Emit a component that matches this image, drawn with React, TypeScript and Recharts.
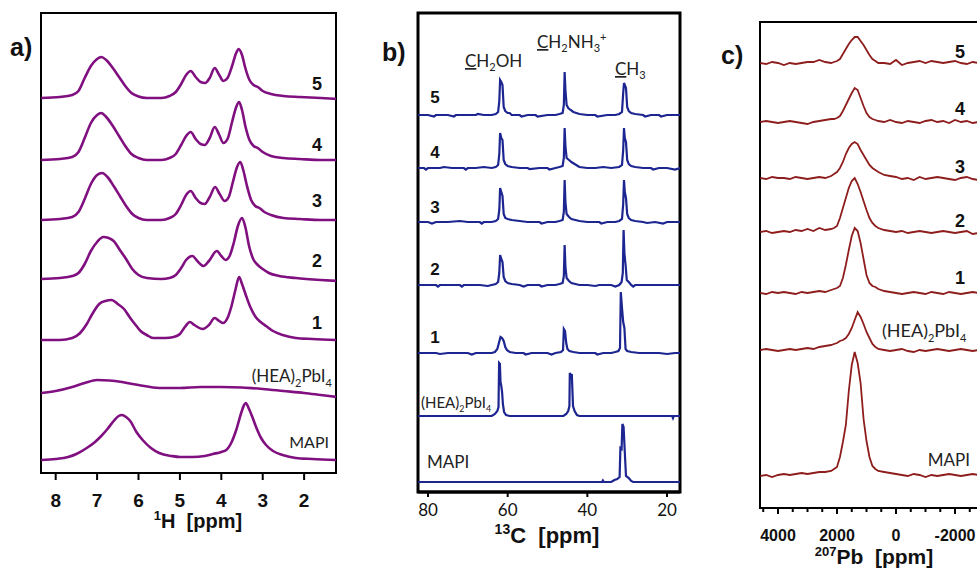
import React from "react";
import { LineChart, Line, XAxis, YAxis, ReferenceArea } from "recharts";

type Pt = [number, number];

// ---------- a) 1H MAS spectra: [ppm, intensity above own baseline] ----------
const h1Ticks = [8, 7, 6, 5, 4, 3, 2];

const h1S5: Pt[] = [
  [8.35, 0], [7.9, 1], [7.6, 3], [7.45, 7], [7.3, 20], [7.15, 32], [7.0, 39], [6.9, 41], [6.78, 38],
  [6.62, 30], [6.47, 21], [6.32, 12], [6.17, 5], [6.0, 1.5], [5.8, 0], [5.45, 0], [5.25, 2], [5.1, 6],
  [4.97, 14], [4.85, 23], [4.74, 27], [4.62, 21], [4.5, 16], [4.39, 15], [4.28, 20], [4.16, 30],
  [4.05, 23], [3.95, 17], [3.85, 20], [3.74, 32], [3.65, 44], [3.58, 49], [3.5, 43], [3.42, 30],
  [3.32, 18], [3.22, 13], [3.12, 11], [3.0, 7], [2.8, 4], [2.5, 2], [2.1, 1], [1.6, 0], [1.2, -1],
];
const h1S4: Pt[] = [
  [8.35, 0], [7.9, 1], [7.6, 3], [7.45, 8], [7.3, 22], [7.15, 37], [7.0, 45], [6.9, 47], [6.78, 43],
  [6.62, 34], [6.47, 24], [6.32, 14], [6.17, 6], [6.0, 2], [5.8, 0], [5.45, 0], [5.25, 2], [5.1, 6],
  [4.97, 15], [4.85, 24], [4.74, 28], [4.62, 21], [4.5, 16], [4.4, 15], [4.28, 22], [4.16, 33],
  [4.05, 25], [3.95, 17], [3.85, 21], [3.74, 38], [3.64, 53], [3.57, 58], [3.5, 50], [3.42, 34],
  [3.32, 20], [3.22, 14], [3.12, 12], [3.0, 8], [2.8, 4], [2.5, 2], [2.1, 1], [1.6, 0], [1.2, 0],
];
const h1S3: Pt[] = [
  [8.35, 0], [7.9, 1], [7.6, 3], [7.45, 8], [7.3, 21], [7.15, 36], [7.0, 45], [6.88, 47], [6.75, 43],
  [6.6, 34], [6.45, 24], [6.3, 14], [6.15, 6], [6.0, 2], [5.8, 0], [5.45, 0], [5.25, 2], [5.1, 6],
  [4.97, 15], [4.85, 25], [4.74, 29], [4.62, 22], [4.5, 17], [4.4, 16], [4.28, 23], [4.15, 33],
  [4.04, 26], [3.92, 19], [3.82, 23], [3.72, 38], [3.62, 53], [3.54, 58], [3.47, 50], [3.38, 34],
  [3.28, 20], [3.18, 14], [3.08, 12], [2.96, 8], [2.8, 5], [2.5, 2], [2.1, 1], [1.6, 0], [1.2, 0],
];
const h1S2: Pt[] = [
  [8.35, 0], [7.9, 1], [7.6, 3], [7.45, 6], [7.3, 15], [7.15, 28], [7.0, 37], [6.85, 42], [6.72, 41],
  [6.6, 38], [6.45, 29], [6.3, 20], [6.15, 10], [6.0, 4], [5.8, 1], [5.45, 0], [5.25, 1], [5.1, 4],
  [4.97, 11], [4.85, 19], [4.7, 23], [4.58, 18], [4.43, 13], [4.3, 18], [4.11, 28], [4.0, 23],
  [3.9, 19], [3.8, 23], [3.7, 36], [3.6, 53], [3.5, 61], [3.42, 52], [3.33, 33], [3.23, 20],
  [3.12, 14], [3.0, 10], [2.85, 6], [2.6, 3], [2.2, 1], [1.6, -1], [1.2, -2],
];
const h1S1: Pt[] = [
  [8.35, 0], [7.9, 0], [7.6, 2], [7.41, 7], [7.25, 16], [7.13, 25], [6.95, 36], [6.8, 39], [6.65, 40],
  [6.5, 36], [6.35, 31], [6.2, 22], [6.05, 14], [5.95, 9], [5.8, 5], [5.65, 2], [5.35, 2], [5.15, 3],
  [5.0, 6], [4.88, 13], [4.76, 18], [4.65, 15], [4.45, 11], [4.3, 15], [4.16, 22], [4.05, 19],
  [3.96, 17], [3.85, 22], [3.76, 33], [3.66, 50], [3.57, 63], [3.5, 56], [3.4, 44], [3.3, 33],
  [3.17, 23], [3.05, 18], [2.92, 14], [2.75, 9], [2.52, 5], [2.2, 2], [1.8, 1], [1.2, 0],
];
const h1Hea: Pt[] = [
  [8.35, 0], [8.0, 2], [7.6, 6], [7.3, 10], [7.0, 13], [6.7, 12.5], [6.4, 11], [6.0, 8], [5.5, 5],
  [5.0, 5], [4.5, 6], [4.0, 6], [3.5, 5.5], [3.0, 4], [2.5, 2], [2.0, 0], [1.6, -2], [1.2, -4],
];
const h1Mapi: Pt[] = [
  [8.35, 0], [8.0, 1], [7.7, 3], [7.5, 6], [7.25, 12], [7.05, 18], [6.9, 24], [6.75, 31], [6.6, 39],
  [6.48, 44], [6.4, 45], [6.3, 43], [6.2, 39], [6.05, 28], [5.9, 20], [5.7, 12], [5.5, 7], [5.2, 4],
  [5.0, 3], [4.7, 3], [4.4, 4], [4.2, 6], [4.0, 8], [3.88, 10], [3.75, 18], [3.64, 30], [3.52, 47],
  [3.45, 55], [3.41, 57], [3.33, 51], [3.25, 43], [3.16, 33], [3.04, 22], [2.92, 15], [2.75, 9],
  [2.52, 5], [2.2, 2], [1.8, 1], [1.2, 0],
];

// ---------- b) 13C CP-MAS spectra ----------
const c13Ticks = [80, 60, 40, 20];

const c13S5: Pt[] = [
  [82.5, 0], [80, 0], [78.5, -1.5], [78, 0], [75, 0], [73.5, -1.5], [73, 0], [70, 0], [68, 0], [67.5, 1],
  [66, 0], [64, 0], [63, 1], [62.4, 3], [62.1, 14], [61.9, 35], [61.6, 33], [61.3, 30], [61.0, 8],
  [60.6, 4], [60.0, 2], [59.5, 2], [59, 0], [57, 0], [56.5, -1.5], [55, 0], [53, 0], [52.5, -1.5],
  [50, 0], [48, 0], [47, 1], [46.2, 2], [45.9, 10], [45.7, 43], [45.5, 25], [45.2, 10], [44.8, 7],
  [44.2, 5], [43.5, 3], [42, 1], [40, 0], [38, 0], [37.5, -1.5], [35, 0], [33, 0], [32, 1], [31.3, 3],
  [31.0, 22], [30.8, 32], [30.6, 30], [30.3, 27], [30.0, 8], [29.6, 4], [29, 2], [28, 1], [26, 0],
  [25.5, -1.5], [24, 0], [22, 0], [21.5, -1.5], [20, 0], [16.7, 0],
];
const c13S4: Pt[] = [
  [82.5, 0], [81, 0], [80.5, -1.5], [80, 0], [77, 0], [76, 1], [74, 0], [71, 0], [70.5, -1.5], [70, 0],
  [68, 0], [66, 1], [64, 0], [63, 1], [62.4, 3], [62.1, 14], [61.9, 35], [61.6, 30], [61.3, 28],
  [61.0, 8], [60.6, 4], [60.0, 2], [59, 1], [57, 0], [55, 0], [54.5, -1], [52, 0], [50, 0],
  [49.5, -1.5], [48, 0], [47, 1], [46.2, 2], [45.9, 10], [45.7, 40], [45.5, 22], [45.2, 10],
  [44.6, 8], [44, 6], [43.2, 4], [42, 1], [40, 0], [38, 0], [36, 1], [34, 0], [32, 1], [31.3, 3],
  [31.0, 18], [30.8, 40], [30.6, 30], [30.3, 26], [30.0, 8], [29.6, 4], [29, 2], [28, 1], [26, 0],
  [24, 0], [23.5, -1.5], [22, 0], [20, 0], [18, -1.5], [16.7, 0],
];
const c13S3: Pt[] = [
  [82.5, 0], [80, 0], [79, -1.5], [78, 0], [75, 0], [72, 1], [70, 0], [67, 0], [66.5, -1.5], [66, 0],
  [64, 0], [63, 1], [62.4, 3], [62.1, 12], [61.9, 34], [61.6, 30], [61.3, 26], [61.0, 8], [60.6, 4],
  [60, 3], [59, 2], [57, 1], [55, 0], [52, 0], [51.5, -1.5], [50, 0], [48, 0], [47, 1], [46.2, 2],
  [45.9, 10], [45.7, 42], [45.5, 20], [45.2, 8], [44.6, 5], [44, 3], [43, 2], [42, 1], [40, 0],
  [37, 0], [36.5, -1.5], [35, 0], [33, 0], [32, 1], [31.3, 3], [31.0, 18], [30.8, 42], [30.6, 30],
  [30.3, 24], [30.0, 8], [29.6, 4], [29, 2], [28, 1], [26, 0], [25, -1], [23, 0], [21, -1.5],
  [20, 0], [16.7, 0],
];
const c13S2: Pt[] = [
  [82.5, 0], [80, 0], [78, 0], [77.5, -1.5], [77, 0], [74, 0], [72, 0], [71.5, -1.5], [71, 0], [69, 0],
  [67, 0], [65, -1], [64, 0], [63, 1], [62.4, 3], [62.1, 12], [61.9, 30], [61.6, 26], [61.3, 23],
  [61.0, 8], [60.6, 4], [60, 2], [59, 1], [57, 0], [56, -1.5], [55, 0], [52, 0], [51.5, -1.5],
  [50, 0], [48, 0], [47, 1], [46.2, 2], [45.9, 9], [45.7, 40], [45.5, 18], [45.2, 7], [44.6, 4],
  [44, 2], [42, 0], [40, 0], [38, -1], [37, 0], [34, 0], [33, -1.5], [32, 0], [31.4, 3], [31.1, 12],
  [30.9, 55], [30.7, 32], [30.4, 20], [30.1, 5], [29.6, 3], [29, 0], [28.5, -1.5], [28, 0], [26, 0],
  [24, 0], [22, 0], [16.7, 0],
];
const c13S1: Pt[] = [
  [82.5, 0], [80, 0], [78, 0], [77, -1], [75, 0], [72, 0], [70, 0], [69, -1.5], [68, 0], [66, 0],
  [64, 0], [63.2, 1], [62.6, 4], [62.2, 10], [61.8, 16], [61.4, 15], [61.0, 12], [60.6, 6], [60.2, 3],
  [59.5, 1], [58, 0], [56, 0], [55.5, -1.5], [54, 0], [52, 0], [50, 0], [49, -1.5], [48, 0],
  [46.6, 1], [46.1, 3], [45.9, 24], [45.6, 22], [45.3, 10], [45.0, 4], [44.5, 2], [43.5, 1], [42, 0],
  [40, 0], [38, 0], [37.5, -1.5], [36, 0], [34, 0], [33, 1], [32.2, 2], [31.8, 5], [31.6, 61],
  [31.3, 45], [31.0, 31], [30.7, 25], [30.4, 4], [30.0, 2], [29, 1], [27, 0], [25, 0], [22, 0],
  [20, -1], [18, 0], [16.7, 0],
];
const c13Hea: Pt[] = [
  [82.5, 0], [70, 0], [64, 0], [63.2, 2], [62.6, 5], [62.3, 9], [62.15, 53], [61.95, 52], [61.8, 34],
  [61.6, 30], [61.4, 24], [61.2, 12], [60.9, 4], [60.4, 1], [59.5, 0], [50, 0], [46, 0], [45.3, 2],
  [44.8, 5], [44.5, 10], [44.4, 43], [44.1, 40], [43.9, 42], [43.6, 10], [43.2, 5], [42.6, 1],
  [42, 0], [30, 0], [18.7, 0], [18.5, -2], [18.3, 0], [16.7, 0],
];
const c13Mapi: Pt[] = [
  [82.5, 0], [40, 0], [36.3, 0], [36.1, 1.5], [35.9, 0], [34, 0], [33.2, 2], [32.5, 3], [31.9, 5],
  [31.7, 34], [31.4, 33], [31.2, 58], [30.9, 55], [30.6, 30], [30.3, 6], [29.6, 4], [29.0, 1],
  [28.5, 0], [16.7, 0],
];

// ---------- c) 207Pb spectra on a shared shift grid ----------
const pbTicks = [4500, 4000, 3500, 3000, 2500, 2000, 1500, 1000, 500, 0, -500, -1000, -1500, -2000, -2500];
const pbShifts = [
  4600, 4400, 4200, 4000, 3800, 3600, 3400, 3200, 3000, 2800, 2600, 2400, 2200, 2100, 2000, 1900,
  1800, 1700, 1600, 1500, 1400, 1300, 1200, 1100, 1000, 900, 800, 700, 600, 400, 200, 0, -200,
  -400, -600, -800, -1000, -1200, -1400, -1600, -1800, -2000, -2200, -2400, -2600, -2800,
];
const pbS5 = [
  0, -1, 1, 0, -2, 0, -1, 0, 1, 1, 3, 1, 0, 1, 2, 4, 9, 14, 19, 23, 26, 26, 22, 18, 13, 8, 4, 2, 0,
  0, -1, 3, -2, 0, 1, 2, 0, 2, 1, 0, 1, 2, 0, -1, 1, 0,
];
const pbS4 = [
  0, 1, 0, -1, 0, 1, 0, -1, -2, 0, 1, 2, 3, 3, 4, 6, 11, 17, 23, 29, 34, 32, 24, 16, 9, 5, 3, 2, 1,
  0, 2, 0, -1, 1, 0, -1, 1, 2, 0, 1, -1, 2, 0, 1, -1, 0,
];
const pbS3 = [
  0, -1, 1, 0, 0, -1, 1, 0, -1, 0, 1, 0, 2, 4, 6, 10, 16, 24, 30, 34, 36, 34, 28, 23, 18, 13, 10, 8,
  6, 3, 2, 1, -1, 0, -2, 1, -1, 0, 1, 0, -1, -2, 0, 1, -1, -2,
];
const pbS2 = [
  0, 1, -1, 0, 1, 0, 2, 1, 3, 1, 4, 2, 3, 4, 6, 14, 24, 34, 44, 51, 54, 48, 40, 31, 22, 14, 9, 6, 4,
  2, 1, 0, 1, -1, 0, 1, 0, -1, 0, 1, 0, -1, 0, 1, -2, -1,
];
const pbS1 = [
  0, -1, 1, 0, 1, 0, -1, 1, 0, 1, 2, 1, 3, 4, 5, 7, 15, 28, 43, 57, 65, 62, 50, 34, 18, 10, 7, 6, 4,
  2, 1, 0, -1, 0, 1, 0, -1, 1, 0, -1, 1, 0, -1, 0, 1, 0,
];
const pbHea = [
  0, 1, 0, -1, 0, 1, 0, 1, 2, 1, 3, 4, 5, 6, 7, 9, 10, 12, 16, 22, 30, 38, 33, 26, 18, 12, 6, 3, 1,
  0, -1, 0, 1, -1, -2, 0, -1, 0, 1, 0, -1, 0, 1, 0, -1, 0,
];
const pbMapi = [
  -1, 0, -2, 0, 1, 0, 1, 2, 1, 2, 3, 3, 4, 6, 8, 18, 33, 50, 84, 110, 123, 112, 92, 56, 34, 18, 9, 6,
  4, 3, 2, 1, 0, -1, 1, 0, -2, 0, -1, 0, 1, 0, -1, 0, 1, 0,
];

// vertical stacking of the traces (axis units = px inside each frame)
const aStack = [375, 313, 253, 194, 133, 80, 13];
const bStack = [377, 324, 270, 207, 139, 76, 10];
const cStack = [445, 386, 330, 276, 215, 158, 33];

const h1Series = [h1S5, h1S4, h1S3, h1S2, h1S1, h1Hea, h1Mapi];
const c13Series = [c13S5, c13S4, c13S3, c13S2, c13S1, c13Hea, c13Mapi];
const pbSeries = [pbS5, pbS4, pbS3, pbS2, pbS1, pbHea, pbMapi];

const rowsFromPts = (pts: Pt[], base: number) => pts.map(([x, y]) => ({ x, y: y + base }));
const rowsFromGrid = (vals: number[], base: number) => pbShifts.map((x, i) => ({ x, y: vals[i] + base }));

const SANS = "'Liberation Sans', Arial, sans-serif";
const NARROW = "'Liberation Sans Narrow', 'Liberation Sans', Arial, sans-serif";
const HUMAN = "Lato, 'Liberation Sans', sans-serif";
const GAP = "\u00a0\u00a0";

function makeTick(opts: {
  axisY: number;
  len: number;
  minorLen?: number;
  labelY: number;
  font: string;
  size: number;
  weight: string | number;
  isMajor?: (v: number) => boolean;
}) {
  return (props: any) => {
    const { x, payload } = props;
    const v = payload.value as number;
    const major = opts.isMajor ? opts.isMajor(v) : true;
    return (
      <g>
        <line x1={x} x2={x} y1={opts.axisY} y2={opts.axisY + (major ? opts.len : opts.minorLen ?? 3)} stroke="#000" strokeWidth={2} />
        {major && (
          <text x={x} y={opts.labelY} textAnchor="middle" fontFamily={opts.font} fontSize={opts.size} fontWeight={opts.weight} fill="#111">
            {v}
          </text>
        )}
      </g>
    );
  };
}

type PanelProps = {
  left: number;
  width: number;
  margin: { top: number; right: number; left: number; bottom: number };
  bottomY: number;
  xDomain: [number, number];
  yMax: number;
  ticks: number[];
  tick: (p: any) => React.ReactElement;
  rows: { x: number; y: number }[][];
  color: string;
  lineWidth: number;
  frameWidth: number;
  curve: "monotone" | "linear";
};

function Panel(p: PanelProps) {
  return (
    <div style={{ position: "absolute", left: p.left, top: 0 }}>
      <LineChart width={p.width} height={572} margin={p.margin}>
        <XAxis
          xAxisId="b"
          dataKey="x"
          type="number"
          domain={p.xDomain}
          reversed
          allowDataOverflow
          ticks={p.ticks}
          interval={0}
          height={572 - p.bottomY - p.margin.bottom}
          axisLine={{ stroke: "#000", strokeWidth: p.frameWidth }}
          tickLine={false}
          tick={p.tick}
        />
        <YAxis yAxisId="l" type="number" domain={[0, p.yMax]} allowDataOverflow width={0} hide />
        {/* plot frame */}
        <ReferenceArea
          xAxisId="b"
          yAxisId="l"
          x1={p.xDomain[0]}
          x2={p.xDomain[1]}
          y1={0}
          y2={p.yMax}
          fill="none"
          fillOpacity={0}
          stroke="#000"
          strokeWidth={p.frameWidth}
          strokeOpacity={1}
          ifOverflow="visible"
        />
        {p.rows.map((data, i) => (
          <Line
            key={i}
            xAxisId="b"
            yAxisId="l"
            data={data}
            dataKey="y"
            type={p.curve}
            stroke={p.color}
            strokeWidth={p.lineWidth}
            dot={false}
            activeDot={false}
            isAnimationActive={false}
          />
        ))}
      </LineChart>
    </div>
  );
}

function HeaLabel({ x, y, size, anchor }: { x: number; y: number; size: number; anchor: "start" | "end" }) {
  const s = Math.round(size * 0.62);
  const d = Math.round(size * 0.28);
  return (
    <text x={x} y={y} fontFamily={HUMAN} fontSize={size} fill="#222" textAnchor={anchor}>
      (HEA)
      <tspan fontSize={s} dy={d}>2</tspan>
      <tspan dy={-d}>PbI</tspan>
      <tspan fontSize={s} dy={d}>4</tspan>
    </text>
  );
}

export default function App() {
  const aRows = h1Series.map((s, i) => rowsFromPts(s, aStack[i]));
  const bRows = c13Series.map((s, i) => rowsFromPts(s, bStack[i]));
  const cRows = pbSeries.map((s, i) => rowsFromGrid(s, cStack[i]));
  const numLabels = ["5", "4", "3", "2", "1"];
  const aNumY = [90, 151, 207, 267, 329];
  const bNumY = [103, 158, 213, 275, 343];
  const cNumY = [58, 115, 173, 227, 284];

  return (
    <div style={{ position: "absolute", left: 0, top: 0, width: 977, height: 572, overflow: "hidden", background: "#fff" }}>
      <Panel
        left={0}
        width={345}
        margin={{ top: 13, right: 9, left: 41, bottom: 0 }}
        bottomY={473}
        xDomain={[1.23, 8.355]}
        yMax={460}
        ticks={h1Ticks}
        tick={makeTick({ axisY: 473, len: 7, labelY: 507, font: NARROW, size: 19, weight: 700 })}
        rows={aRows}
        color="#800f80"
        lineWidth={2.6}
        frameWidth={2}
        curve="monotone"
      />
      <Panel
        left={380}
        width={320}
        margin={{ top: 13, right: 20, left: 38, bottom: 0 }}
        bottomY={492}
        xDomain={[16.74, 82.51]}
        yMax={479}
        ticks={c13Ticks}
        tick={makeTick({ axisY: 492, len: 5, labelY: 516, font: HUMAN, size: 17, weight: 400 })}
        rows={bRows}
        color="#1c2590"
        lineWidth={2.2}
        frameWidth={3}
        curve="linear"
      />
      <Panel
        left={715}
        width={280}
        margin={{ top: 22, right: 5, left: 45, bottom: 0 }}
        bottomY={508}
        xDomain={[-3186, 4610]}
        yMax={486}
        ticks={pbTicks}
        tick={makeTick({
          axisY: 508,
          len: 6,
          minorLen: 4,
          labelY: 541,
          font: SANS,
          size: 16,
          weight: 700,
          isMajor: (v) => v % 2000 === 0,
        })}
        rows={cRows}
        color="#8e1d1d"
        lineWidth={1.8}
        frameWidth={2}
        curve="linear"
      />

      <svg width={977} height={572} style={{ position: "absolute", left: 0, top: 0, pointerEvents: "none" }}>
        {/* panel letters */}
        <text x={10} y={56} fontFamily={SANS} fontSize={25} fontWeight={700} fill="#111">a)</text>
        <text x={382} y={61} fontFamily={SANS} fontSize={25} fontWeight={700} fill="#111">b)</text>
        <text x={721} y={64} fontFamily={SANS} fontSize={25} fontWeight={700} fill="#111">c)</text>

        {/* a) trace labels */}
        {numLabels.map((t, i) => (
          <text key={"a" + t} x={317} y={aNumY[i]} textAnchor="middle" fontFamily={SANS} fontSize={18} fontWeight={700} fill="#111">{t}</text>
        ))}
        <HeaLabel x={332} y={382} size={17} anchor="end" />
        <text x={329} y={448} textAnchor="end" fontFamily={HUMAN} fontSize={16} fill="#222">MAPI</text>
        <text x={198} y={528} textAnchor="middle" fontFamily={SANS} fontSize={20} fontWeight={700} fill="#111">
          <tspan fontSize={13} dy={-8}>1</tspan>
          <tspan dy={8}>{"H" + GAP + "[ppm]"}</tspan>
        </text>

        {/* b) trace labels */}
        {numLabels.map((t, i) => (
          <text key={"b" + t} x={435} y={bNumY[i]} textAnchor="middle" fontFamily={SANS} fontSize={17} fontWeight={700} fill="#111">{t}</text>
        ))}
        <HeaLabel x={421} y={408} size={15} anchor="start" />
        <text x={427} y={468} fontFamily={HUMAN} fontSize={17} fill="#222">MAPI</text>
        <text x={465} y={67} fontFamily={HUMAN} fontSize={17} fill="#222">
          <tspan textDecoration="underline">C</tspan>H
          <tspan fontSize={11} dy={4}>2</tspan>
          <tspan dy={-4}>OH</tspan>
        </text>
        <text x={537} y={48} fontFamily={HUMAN} fontSize={17} fill="#222">
          <tspan textDecoration="underline">C</tspan>H
          <tspan fontSize={11} dy={4}>2</tspan>
          <tspan dy={-4}>NH</tspan>
          <tspan fontSize={11} dy={4}>3</tspan>
          <tspan fontSize={11} dy={-11}>+</tspan>
        </text>
        <text x={615} y={75} fontFamily={HUMAN} fontSize={17} fill="#222">
          <tspan textDecoration="underline">C</tspan>H
          <tspan fontSize={11} dy={4}>3</tspan>
        </text>
        <text x={547} y={543} textAnchor="middle" fontFamily={SANS} fontSize={22} fontWeight={700} fill="#111">
          <tspan fontSize={14} dy={-9}>13</tspan>
          <tspan dy={9}>{"C" + GAP + "[ppm]"}</tspan>
        </text>

        {/* c) trace labels */}
        {numLabels.map((t, i) => (
          <text key={"c" + t} x={960} y={cNumY[i]} textAnchor="middle" fontFamily={SANS} fontSize={18} fontWeight={700} fill="#111">{t}</text>
        ))}
        <HeaLabel x={882} y={337} size={18} anchor="start" />
        <text x={970} y={466} textAnchor="end" fontFamily={HUMAN} fontSize={17} fill="#222">MAPI</text>
        <text x={874} y={564} textAnchor="middle" fontFamily={SANS} fontSize={21} fontWeight={700} fill="#111">
          <tspan fontSize={13} dy={-8}>207</tspan>
          <tspan dy={8}>{"Pb" + GAP + "[ppm]"}</tspan>
        </text>
      </svg>
    </div>
  );
}
